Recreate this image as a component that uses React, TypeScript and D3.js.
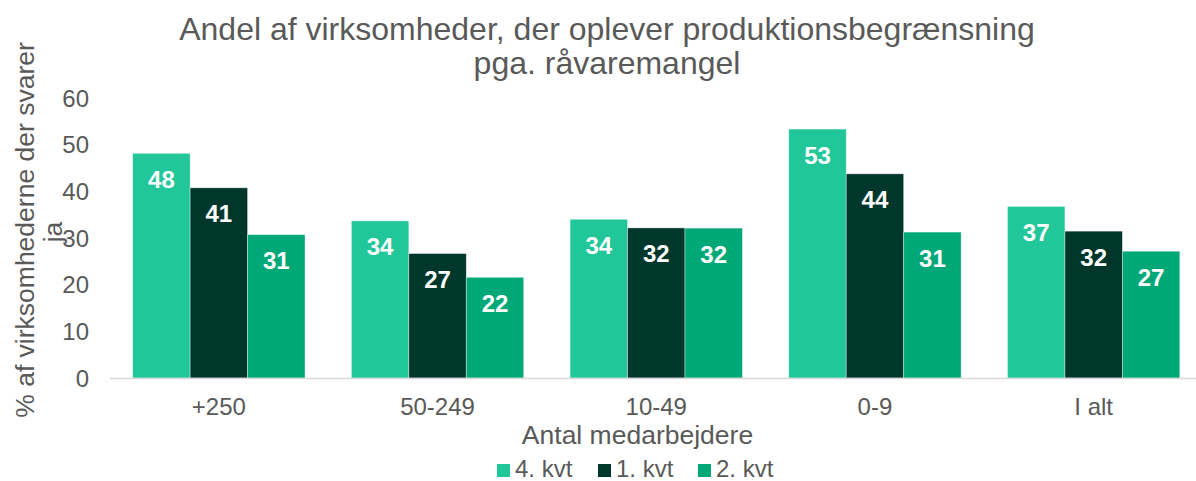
import React from "react";
import * as d3 from "d3";

const categories = ["+250", "50-249", "10-49", "0-9", "I alt"];
const seriesNames = ["4. kvt", "1. kvt", "2. kvt"];
const q4Values = [48.2, 33.7, 34.05, 53.4, 36.8];
const q1Values = [40.8, 26.7, 32.2, 43.8, 31.5];
const q2Values = [30.75, 21.6, 32.15, 31.3, 27.2];
const yTicks = [0, 10, 20, 30, 40, 50, 60];
const titleLines = ["Andel af virksomheder, der oplever produktionsbegrænsning", "pga. råvaremangel"];
const yTitleLines = ["% af virksomhederne der svarer", "ja"];
const xTitle = "Antal medarbejdere";

const colors = ["#21C799", "#00372D", "#00A877"];
const seriesValues = [q4Values, q1Values, q2Values];

const W = 1196;
const H = 481;
const FONT = "'Liberation Sans', Arial, sans-serif";
const GREY = "#595959";

export default function App() {
  const x0 = d3.scaleBand<string>().domain(categories).range([109.5, 1203]).paddingInner(0.212).paddingOuter(0.106);
  const x1 = d3.scaleBand<string>().domain(seriesNames).range([0, x0.bandwidth()]);
  const y = d3.scaleLinear().domain([0, 60]).range([378, 98.3]);

  const legendX = [497, 598, 698];
  const yTitlePos = [
    [33.5, 230],
    [61.5, 232],
  ];

  return (
    <svg width={W} height={H} style={{ position: "absolute", left: 0, top: 0, background: "#fff" }} fontFamily={FONT}>
      <rect x={0} y={0} width={W} height={H} fill="#fff" />
      {titleLines.map((t, i) => (
        <text key={t} x={607} y={39.5 + i * 34} textAnchor="middle" fontSize={32} fill={GREY}>
          {t}
        </text>
      ))}
      {yTitleLines.map((t, i) => (
        <text
          key={t}
          transform={`translate(${yTitlePos[i][0]},${yTitlePos[i][1]}) rotate(-90)`}
          textAnchor="middle"
          fontSize={26.5}
          fill={GREY}
        >
          {t}
        </text>
      ))}
      {yTicks.map((t) => (
        <text key={t} x={89} y={y(t) + 8.5} textAnchor="end" fontSize={24} fill={GREY}>
          {t}
        </text>
      ))}
      {categories.map((c, ci) => (
        <g key={c} transform={`translate(${x0(c)},0)`}>
          {seriesNames.map((s, si) => {
            const v = seriesValues[si][ci];
            return (
              <g key={s}>
                <rect
                  x={x1(s)}
                  y={y(v)}
                  width={x1.bandwidth()}
                  height={y(0) - y(v)}
                  fill={colors[si]}
                  stroke="#ffffff"
                  strokeOpacity={0.5}
                  strokeWidth={0.75}
                />
                <text
                  x={(x1(s) as number) + x1.bandwidth() / 2}
                  y={y(v) + 34.5}
                  textAnchor="middle"
                  fontSize={24}
                  fontWeight="bold"
                  fill="#fff"
                >
                  {Math.round(v)}
                </text>
              </g>
            );
          })}
          <text x={x0.bandwidth() / 2} y={415} textAnchor="middle" fontSize={24} fill={GREY}>
            {c}
          </text>
        </g>
      ))}
      <line x1={110} x2={W} y1={378.5} y2={378.5} stroke="#D9D9D9" strokeWidth={1.5} />
      <text x={637.5} y={443.5} textAnchor="middle" fontSize={26.5} fill={GREY}>
        {xTitle}
      </text>
      {seriesNames.map((s, i) => (
        <g key={s}>
          <rect x={legendX[i]} y={464} width={13} height={13} fill={colors[i]} />
          <text x={legendX[i] + 18} y={476.5} fontSize={24} fill={GREY}>
            {s}
          </text>
        </g>
      ))}
    </svg>
  );
}
